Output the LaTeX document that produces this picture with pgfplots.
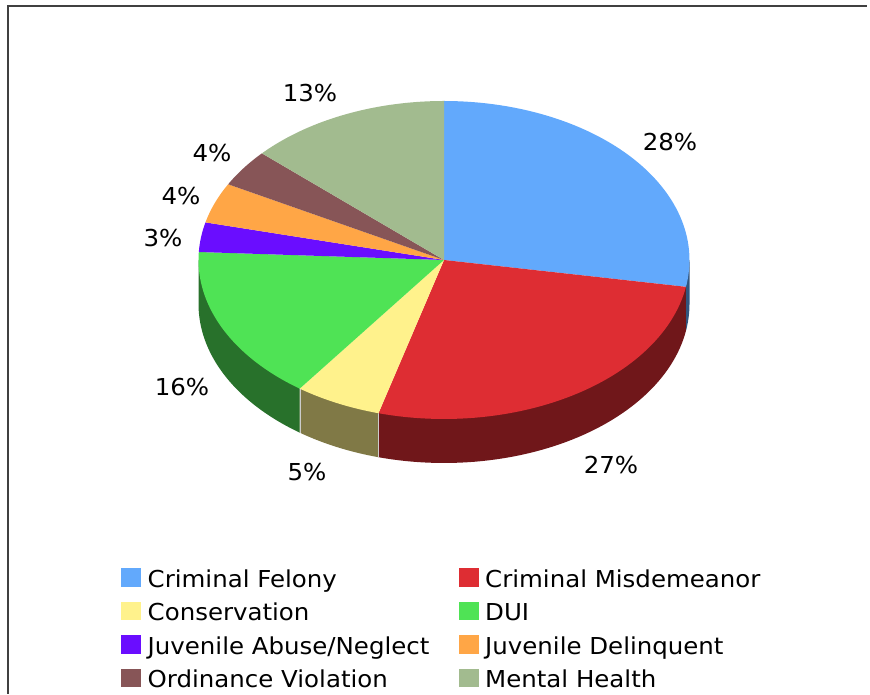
\documentclass[border=0pt]{standalone}
\usepackage{pgfplots}
\pgfplotsset{compat=1.18}
\usepackage{fontspec}
\setmainfont[FakeStretch=1.05]{DejaVu Sans}

\definecolor{cFel}{RGB}{98,169,252}
\definecolor{cFelS}{RGB}{49,85,126}
\definecolor{cMis}{RGB}{222,45,51}
\definecolor{cMisS}{RGB}{112,23,26}
\definecolor{cCon}{RGB}{255,242,140}
\definecolor{cConS}{RGB}{128,121,70}
\definecolor{cDUI}{RGB}{79,227,85}
\definecolor{cDUIS}{RGB}{40,113,43}
\definecolor{cJA}{RGB}{106,13,255}
\definecolor{cJD}{RGB}{255,166,70}
\definecolor{cOrd}{RGB}{135,85,87}
\definecolor{cMH}{RGB}{162,187,143}

% shares (percent), clockwise from 12 o'clock
\def\vFel{27.7}
\def\vMis{26.6}
\def\vCon{5.7}
\def\vDUI{15.8}
\def\vJA{3.0}
\def\vJD{4.1}
\def\vOrd{3.8}
\def\vMH{13.3}

% geometry (pixels)
\def\cx{444}
\def\cy{-260}
\def\rx{245.5}
\def\ry{159}
\def\dep{44}

\pgfmathsetmacro\aA{90}
\pgfmathsetmacro\aB{\aA-3.6*\vFel}
\pgfmathsetmacro\aC{\aB-3.6*\vMis}
\pgfmathsetmacro\aD{\aC-3.6*\vCon}
\pgfmathsetmacro\aE{\aD-3.6*\vDUI}
\pgfmathsetmacro\aF{\aE-3.6*\vJA}
\pgfmathsetmacro\aG{\aF-3.6*\vJD}
\pgfmathsetmacro\aH{\aG-3.6*\vOrd}
\pgfmathsetmacro\aI{\aH-3.6*\vMH}

% points on the top rim
\pgfmathsetmacro\xZ{\cx+\rx*cos(0)}    \pgfmathsetmacro\yZ{\cy+\ry*sin(0)}
\pgfmathsetmacro\xB{\cx+\rx*cos(\aB)}  \pgfmathsetmacro\yB{\cy+\ry*sin(\aB)}
\pgfmathsetmacro\xC{\cx+\rx*cos(\aC)}  \pgfmathsetmacro\yC{\cy+\ry*sin(\aC)}
\pgfmathsetmacro\xD{\cx+\rx*cos(\aD)}  \pgfmathsetmacro\yD{\cy+\ry*sin(\aD)}
\pgfmathsetmacro\xL{\cx+\rx*cos(-180)} \pgfmathsetmacro\yL{\cy+\ry*sin(-180)}

\begin{document}
\begin{tikzpicture}
\begin{axis}[
  scale only axis, width=870pt, height=694pt,
  xmin=0, xmax=870, ymin=-694, ymax=0,
  hide axis, clip=false,
  samples=60,
]
\path (0,0) rectangle (870,-694);

% frame
\draw[line width=1.6pt, black!75] (8,-694) -- (8,-6) -- (867,-6);

% side walls (visible lower half)
\addplot[fill=cFelS, draw=none, domain=\aB:0] ({\cx+\rx*cos(x)},{\cy-\dep+\ry*sin(x)}) -- (\xZ,\yZ) -- (\xB,\yB) -- cycle;
\addplot[fill=cMisS, draw=none, domain=\aC:\aB] ({\cx+\rx*cos(x)},{\cy-\dep+\ry*sin(x)}) -- (\xB,\yB) -- (\xC,\yC) -- cycle;
\addplot[fill=cConS, draw=none, domain=\aD:\aC] ({\cx+\rx*cos(x)},{\cy-\dep+\ry*sin(x)}) -- (\xC,\yC) -- (\xD,\yD) -- cycle;
\addplot[fill=cDUIS, draw=none, domain=-180:\aD] ({\cx+\rx*cos(x)},{\cy-\dep+\ry*sin(x)}) -- (\xD,\yD) -- (\xL,\yL) -- cycle;
% thin edges between wall segments
\draw[white!60!gray, line width=0.4pt] (\xC,\yC) -- (\xC,\yC-\dep);
\draw[white!60!gray, line width=0.4pt] (\xD,\yD) -- (\xD,\yD-\dep);

% top faces
\addplot[fill=cFel, draw=none, domain=\aB:\aA] ({\cx+\rx*cos(x)},{\cy+\ry*sin(x)}) -- (\cx,\cy) -- cycle;
\addplot[fill=cMis, draw=none, domain=\aC:\aB] ({\cx+\rx*cos(x)},{\cy+\ry*sin(x)}) -- (\cx,\cy) -- cycle;
\addplot[fill=cCon, draw=none, domain=\aD:\aC] ({\cx+\rx*cos(x)},{\cy+\ry*sin(x)}) -- (\cx,\cy) -- cycle;
\addplot[fill=cDUI, draw=none, domain=\aE:\aD] ({\cx+\rx*cos(x)},{\cy+\ry*sin(x)}) -- (\cx,\cy) -- cycle;
\addplot[fill=cJA, draw=none, domain=\aF:\aE, samples=20] ({\cx+\rx*cos(x)},{\cy+\ry*sin(x)}) -- (\cx,\cy) -- cycle;
\addplot[fill=cJD, draw=none, domain=\aG:\aF, samples=20] ({\cx+\rx*cos(x)},{\cy+\ry*sin(x)}) -- (\cx,\cy) -- cycle;
\addplot[fill=cOrd, draw=none, domain=\aH:\aG, samples=20] ({\cx+\rx*cos(x)},{\cy+\ry*sin(x)}) -- (\cx,\cy) -- cycle;
\addplot[fill=cMH, draw=none, domain=\aI:\aH] ({\cx+\rx*cos(x)},{\cy+\ry*sin(x)}) -- (\cx,\cy) -- cycle;

% percentage labels
\begin{scope}[every node/.style={font=\fontsize{23.3}{27}\selectfont, inner sep=0pt, anchor=center}]
\node at (670,-142) {28\%};
\node at (611,-465) {27\%};
\node at (307,-472) {5\%};
\node at (182,-387) {16\%};
\node at (163,-238) {3\%};
\node at (181,-196) {4\%};
\node at (212,-153) {4\%};
\node at (310,-93) {13\%};
\end{scope}

% legend
\begin{scope}[every node/.style={font=\fontsize{23.3}{27}\selectfont, inner sep=0pt, anchor=base west}]
\fill[cFel] (121,-568.5) rectangle (141,-587);
\node at (147.5,-587.3) {Criminal Felony};
\fill[cMis] (459,-568.5) rectangle (479,-587);
\node at (485,-587.3) {Criminal Misdemeanor};
\fill[cCon] (121,-602) rectangle (141,-620.5);
\node at (147.5,-620.8) {Conservation};
\fill[cDUI] (459,-602) rectangle (479,-620.5);
\node at (485,-620.8) {DUI};
\fill[cJA] (121,-635.5) rectangle (141,-654);
\node at (147.5,-654.3) {Juvenile Abuse/Neglect};
\fill[cJD] (459,-635.5) rectangle (479,-654);
\node at (485,-654.3) {Juvenile Delinquent};
\fill[cOrd] (121,-669) rectangle (141,-687.5);
\node at (147.5,-687.8) {Ordinance Violation};
\fill[cMH] (459,-669) rectangle (479,-687.5);
\node at (485,-687.8) {Mental Health};
\end{scope}
\end{axis}
\end{tikzpicture}
\end{document}
